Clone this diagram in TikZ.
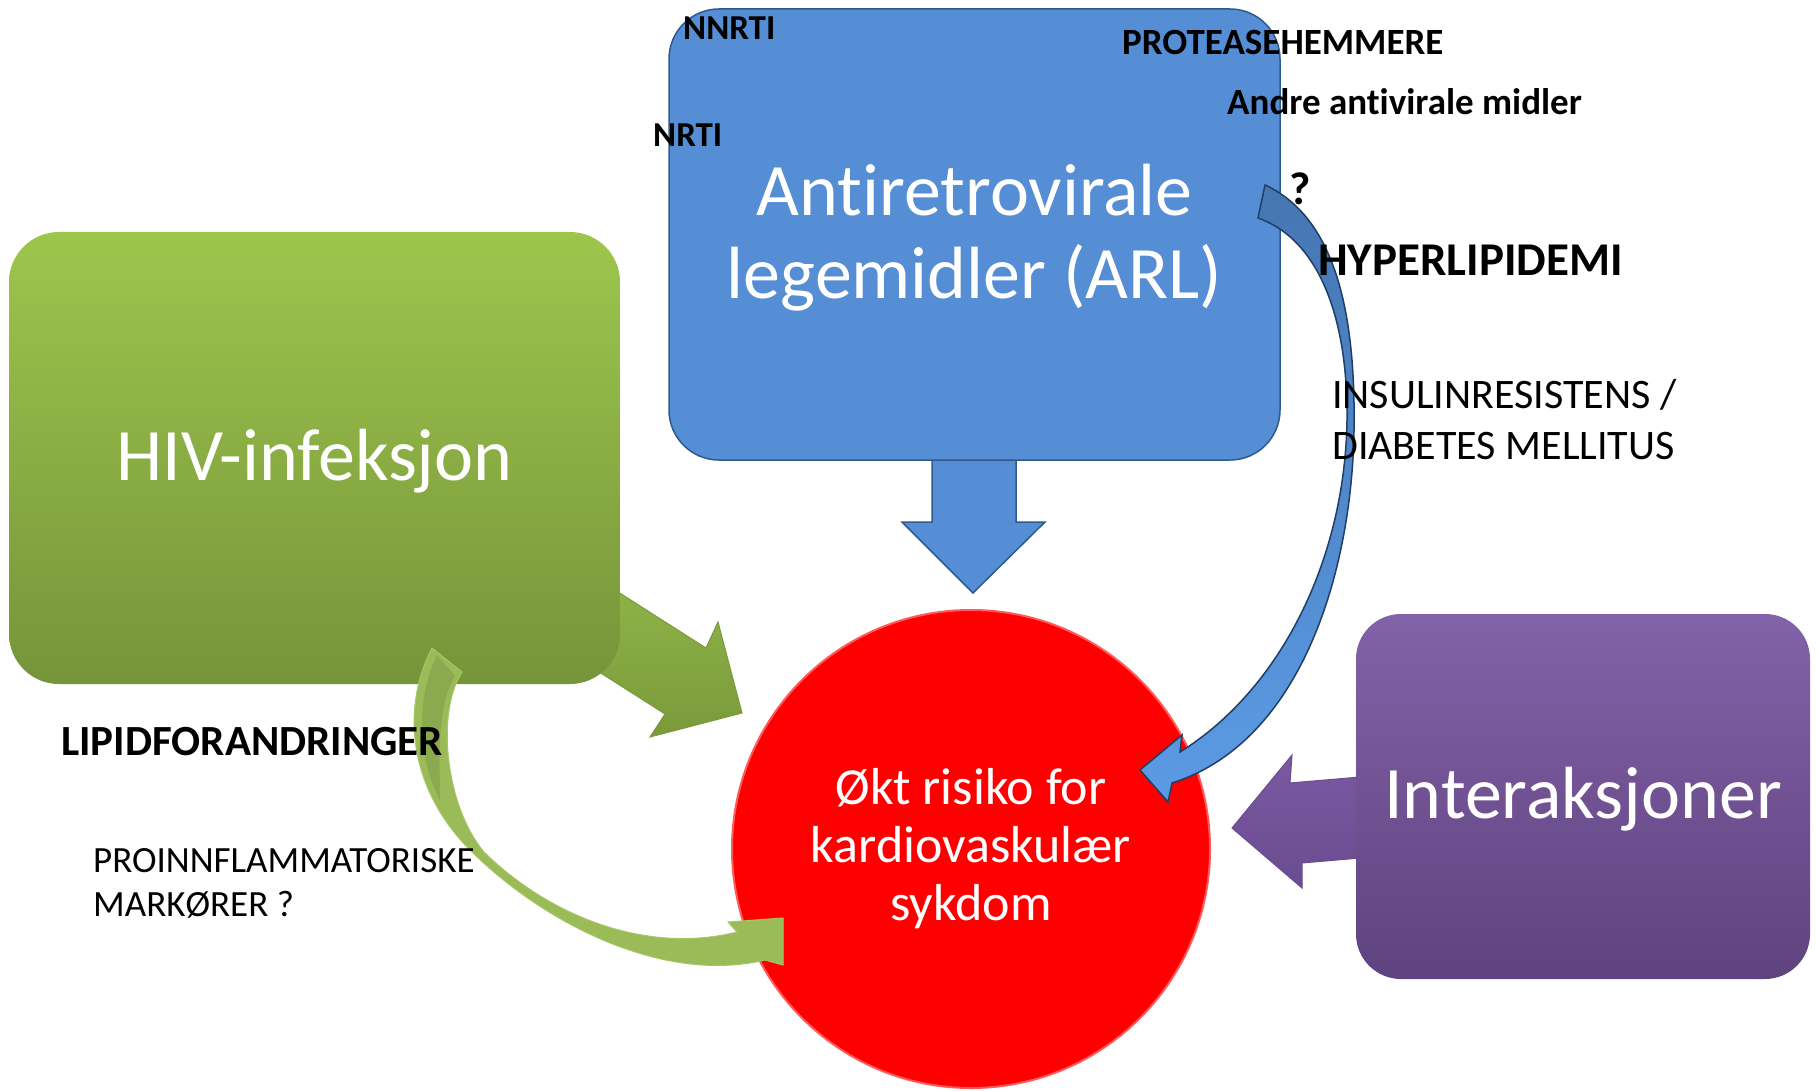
\documentclass[tikz,border=0pt]{standalone}
\usepackage{fontspec}
\setmainfont{Carlito}[Ligatures=NoCommon]
\definecolor{blueF}{HTML}{558ED5}
\definecolor{blueD}{HTML}{2F5A8F}
\definecolor{blueT}{HTML}{4676B2}
\definecolor{blueB}{HTML}{5B9BE4}
\definecolor{blueE}{HTML}{1F3F66}
\definecolor{greenT}{HTML}{9DC64D}
\definecolor{greenB}{HTML}{76943A}
\definecolor{greenAT}{HTML}{93B84A}
\definecolor{greenAB}{HTML}{7A9A3B}
\definecolor{greenC}{HTML}{9BBB59}
\definecolor{greenCE}{HTML}{A6C763}
\definecolor{greenCD}{HTML}{7F9C47}
\definecolor{purpT}{HTML}{8262A8}
\definecolor{purpB}{HTML}{5F437F}
\definecolor{purpA}{HTML}{7A59A2}
\definecolor{purpAB}{HTML}{6A4C90}
\definecolor{redE}{HTML}{FF5A5A}
\begin{document}
\begin{tikzpicture}[x=1pt,y=-1pt,
  bigbox/.style={rounded corners=50pt, inner sep=0pt, text=white, align=center},
  lbl/.style={anchor=base west, inner sep=0pt, text=black},
  lblbold/.style={lbl, font=\bfseries\fontsize{#1}{#1}\selectfont},
  lblreg/.style={lbl, font=\fontsize{#1}{#1}\selectfont}]
\fill[white] (0,0) rectangle (1817,1091);
\useasboundingbox (0,0) rectangle (1817,1091);

% green straight block arrow (behind the green box)
\shade[top color=greenAT, bottom color=greenAB, draw=greenAB, line width=1pt]
  (560,555) -- (706,648) -- (718,622) -- (742,713) -- (650,737) -- (665,714) -- (560,647) -- cycle;

% green box
\node[bigbox, minimum width=611pt, minimum height=452pt, top color=greenT, bottom color=greenB,
  font=\fontsize{74}{83}\selectfont] (hiv) at (314.5,458)
  {\raisebox{-3pt}[\height][\depth]{HIV-infeksjon}};

% blue down block arrow
\filldraw[fill=blueF, draw=blueD, line width=1.5pt]
  (932,450) -- (932,522) -- (902,522) -- (973,593) -- (1045,522) -- (1016,522) -- (1016,450) -- cycle;

% blue box
\node[bigbox, minimum width=611pt, minimum height=451pt, fill=blueF, draw=blueD, line width=1.5pt,
  font=\fontsize{74}{83}\selectfont] (arl) at (974.5,234.5)
  {\raisebox{-6pt}[\height][\depth]{\begin{tabular}{@{}c@{}}Antiretrovirale\\legemidler (ARL)\end{tabular}}};

% red circle
\node[circle, minimum size=478pt, inner sep=0pt, fill=red, draw=redE, line width=2pt, text=white,
  align=center, font=\fontsize{52}{58}\selectfont] (risk) at (971,849) {Økt risiko for\\kardiovaskulær\\sykdom};

% purple block arrow
\shade[top color=purpA, bottom color=purpAB, draw=purpAB, line width=1pt]
  (1360,777) -- (1290,783) -- (1292,755) -- (1232,828) -- (1302,888) -- (1302,863) -- (1360,858) -- cycle;

% purple box
\node[bigbox, rounded corners=45pt, minimum width=454pt, minimum height=365pt, top color=purpT, bottom color=purpB,
  font=\fontsize{74}{83}\selectfont] (inter) at (1583,796.5)
  {\raisebox{-3pt}[\height][\depth]{Interaksjoner}};

% green curved arrow
\filldraw[fill=greenC, draw=greenCE, line width=1pt]
  (432,648) .. controls (400,710) and (410,790) .. (470,850)
  .. controls (540,920) and (660,985) .. (765,960)
  -- (783,965) -- (783,918) -- (728,922) -- (737,932)
  .. controls (645,955) and (548,915) .. (484,852)
  .. controls (445,805) and (436,712) .. (462,672) -- cycle;
% darker back face of the tail part
\fill[greenCD, opacity=0.55]
  (437,655) .. controls (415,700) and (418,760) .. (440,800)
  .. controls (440,760) and (436,708) .. (455,676) -- cycle;

% blue curved arrow
\shade[top color=blueT, bottom color=blueB, draw=blueE, line width=1.5pt]
  (1265,185) .. controls (1330,215) and (1356,300) .. (1354,430)
  .. controls (1352,570) and (1302,742) .. (1172,783)
  -- (1168,802) -- (1140,770) -- (1182,735) -- (1180,752)
  .. controls (1280,690) and (1345,560) .. (1347,420)
  .. controls (1348,320) and (1320,240) .. (1258,218) -- cycle;

% labels
\node[lblbold=35] (nnrti) at (683,40) {NNRTI};
\node[lblbold=35] (nrti) at (653,147) {NRTI};
\node[lblbold=37] (prot) at (1122,55) {PROTEASEHEMMERE};
\node[lblbold=37] (andre) at (1227,115) {Andre antivirale midler};
\node[lblbold=46] (quest) at (1289,205) {?};
\node[lblbold=47] (hyper) at (1318,276) {HYPERLIPIDEMI};
\node[lblreg=42] (ins1) at (1332,408) {INSULINRESISTENS /};
\node[lblreg=42] (ins2) at (1332,459) {DIABETES MELLITUS};
\node[lblbold=43] (lipid) at (61,755) {LIPIDFORANDRINGER};
\node[lblreg=37] (pro1) at (93,872) {PROINNFLAMMATORISKE};
\node[lblreg=37] (pro2) at (93,916) {MARKØRER ?};
\end{tikzpicture}
\end{document}
